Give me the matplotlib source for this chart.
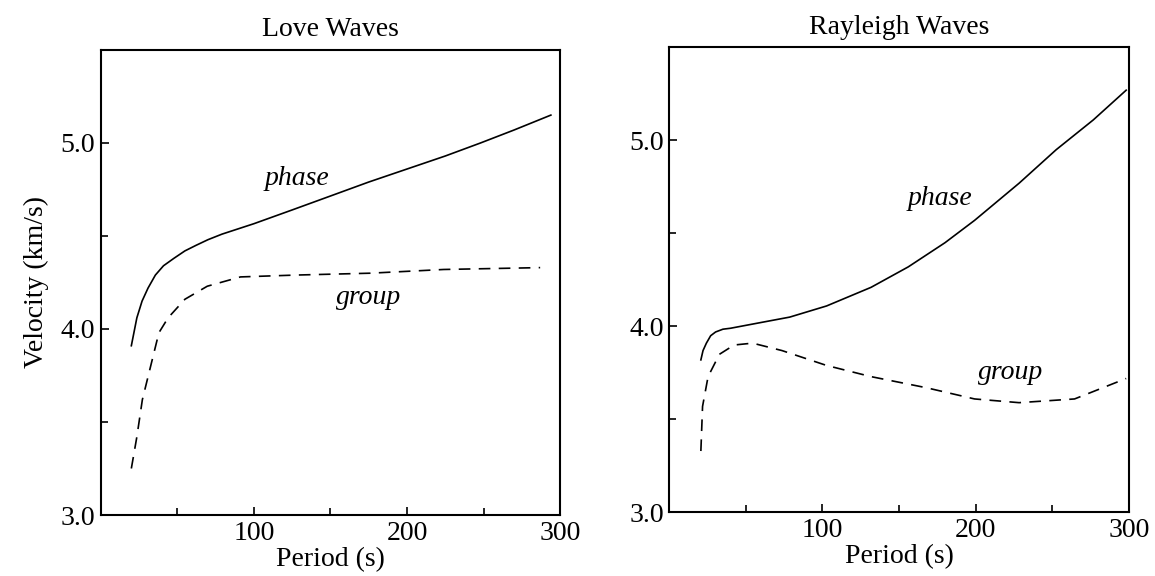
import matplotlib
matplotlib.use("Agg")
import matplotlib.pyplot as plt

plt.rcParams['font.family'] = ['Liberation Serif', 'DejaVu Serif']

# Love waves (period s, velocity km/s)
love_phase_T = [20, 23.6, 27, 30.9, 35.7, 41, 47.8, 55, 62.3, 70, 79.2, 100, 125, 151.7, 175, 200, 225, 248, 270, 294]
love_phase_v = [3.91, 4.06, 4.15, 4.22, 4.29, 4.34, 4.38, 4.42, 4.45, 4.48, 4.51, 4.566, 4.64, 4.72, 4.79, 4.86, 4.93, 5.00, 5.07, 5.15]
love_group_T = [20, 23.6, 27.2, 32, 38, 44, 55, 69.6, 91.3, 127.6, 176, 224, 287]
love_group_v = [3.25, 3.42, 3.62, 3.78, 3.98, 4.06, 4.16, 4.23, 4.28, 4.29, 4.30, 4.32, 4.33]

# Rayleigh waves
ray_phase_T = [20.6, 22, 24.2, 27, 30.2, 35, 39.9, 59.2, 78.6, 102.7, 131.7, 156, 180, 199.3, 228.4, 252.6, 276.8, 298.3]
ray_phase_v = [3.82, 3.87, 3.91, 3.95, 3.97, 3.985, 3.99, 4.02, 4.05, 4.11, 4.21, 4.32, 4.45, 4.57, 4.77, 4.95, 5.11, 5.27]
ray_group_T = [20.6, 21.7, 25.3, 32.7, 42.3, 54.4, 73.6, 102.7, 131.7, 168, 199.3, 228.4, 264.6, 298.3]
ray_group_v = [3.33, 3.57, 3.73, 3.85, 3.90, 3.91, 3.87, 3.79, 3.73, 3.67, 3.61, 3.59, 3.61, 3.72]

titles = ["Love Waves", "Rayleigh Waves"]
x_ticks_major = [100, 200, 300]
x_ticks_minor = [50, 150, 250]
y_ticks_major = [3.0, 4.0, 5.0]
y_ticks_minor = [3.5, 4.5]

fig = plt.figure(figsize=(11.55, 5.76), dpi=100)
ax1 = fig.add_axes([0.0872, 0.1059, 0.3977, 0.8073])
ax2 = fig.add_axes([0.5795, 0.1104, 0.3978, 0.8073])

data = [
    (ax1, love_phase_T, love_phase_v, love_group_T, love_group_v, (128, 4.81), (175, 4.17)),
    (ax2, ray_phase_T, ray_phase_v, ray_group_T, ray_group_v, (177, 4.69), (223, 3.75)),
]

fs = 20
for i, (ax, pT, pv, gT, gv, plab, glab) in enumerate(data):
    ax.plot(pT, pv, color='black', lw=1.2)
    gl, = ax.plot(gT, gv, color='black', lw=1.2)
    gl.set_dashes((7, 5))
    ax.set_xlim(0, 300)
    ax.set_ylim(3.0, 5.5)
    ax.set_xticks(x_ticks_major)
    ax.set_xticks(x_ticks_minor, minor=True)
    ax.set_yticks(y_ticks_major)
    ax.set_yticks(y_ticks_minor, minor=True)
    ax.set_yticklabels(["%.1f" % v for v in y_ticks_major])
    ax.tick_params(which='both', direction='in', labelsize=fs, width=1.2, top=False, right=False)
    ax.tick_params(which='major', length=6, pad=4)
    ax.tick_params(which='minor', length=5)
    for s in ax.spines.values():
        s.set_linewidth(1.5)
    ax.set_xlabel("Period (s)", fontsize=fs, labelpad=1)
    ax.set_title(titles[i], fontsize=fs, pad=10)
    ax.text(plab[0], plab[1], "phase", style='italic', fontsize=fs, ha='center', va='center')
    ax.text(glab[0], glab[1], "group", style='italic', fontsize=fs, ha='center', va='center')

ax1.set_ylabel("Velocity (km/s)", fontsize=fs, labelpad=8)

fig.savefig("out.png", dpi=100)
